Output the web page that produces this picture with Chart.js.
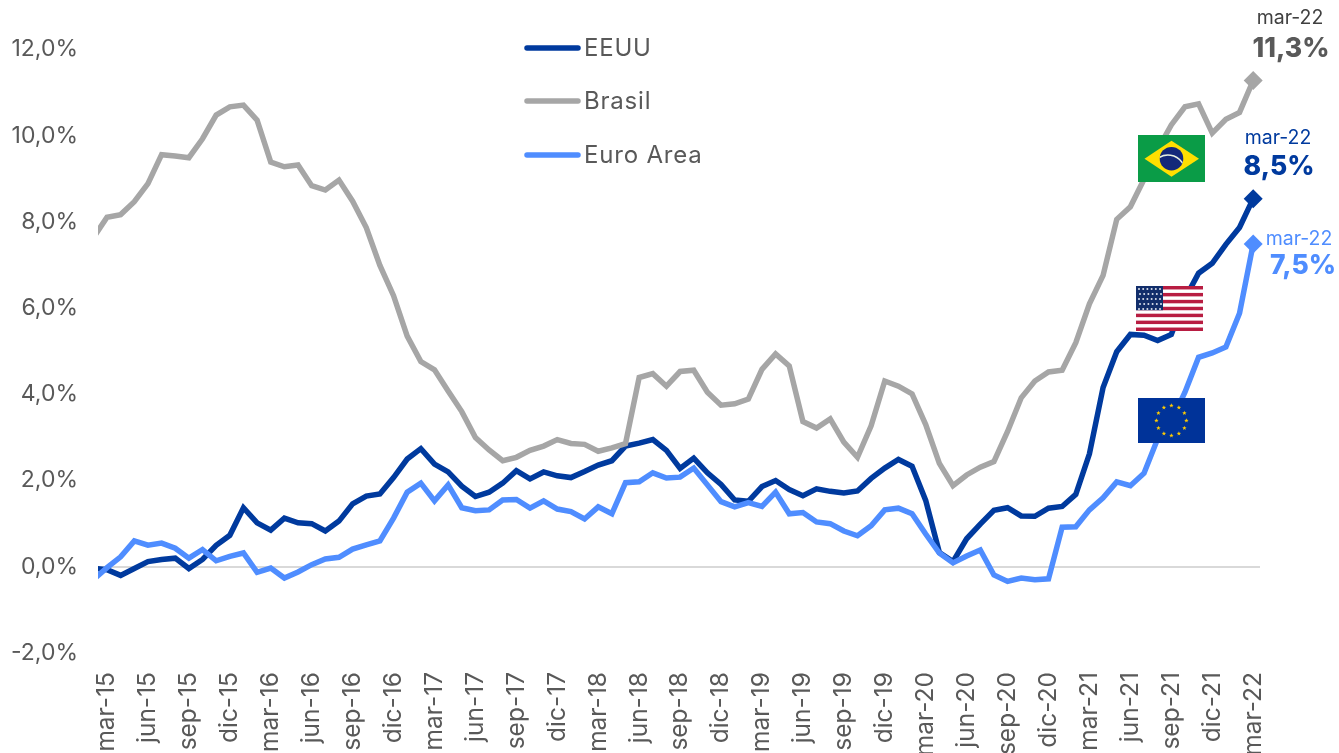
<!DOCTYPE html>
<html><head><meta charset="utf-8">
<script src="https://cdn.jsdelivr.net/npm/chart.js@4"></script>
<style>html,body{margin:0;padding:0;background:#fff;overflow:hidden}canvas{display:block}</style>
</head><body><canvas id="c" width="1339" height="753"></canvas>
<script>
const FONT = 'Inter, "Open Sans", sans-serif';
const categories = ["feb-15","mar-15","abr-15","may-15","jun-15","jul-15","ago-15","sep-15","oct-15","nov-15","dic-15","ene-16","feb-16","mar-16","abr-16","may-16","jun-16","jul-16","ago-16","sep-16","oct-16","nov-16","dic-16","ene-17","feb-17","mar-17","abr-17","may-17","jun-17","jul-17","ago-17","sep-17","oct-17","nov-17","dic-17","ene-18","feb-18","mar-18","abr-18","may-18","jun-18","jul-18","ago-18","sep-18","oct-18","nov-18","dic-18","ene-19","feb-19","mar-19","abr-19","may-19","jun-19","jul-19","ago-19","sep-19","oct-19","nov-19","dic-19","ene-20","feb-20","mar-20","abr-20","may-20","jun-20","jul-20","ago-20","sep-20","oct-20","nov-20","dic-20","ene-21","feb-21","mar-21","abr-21","may-21","jun-21","jul-21","ago-21","sep-21","oct-21","nov-21","dic-21","ene-22","feb-22","mar-22"];
const eeuu = [-0.03,-0.07,-0.20,-0.04,0.12,0.17,0.20,-0.04,0.17,0.50,0.73,1.37,1.02,0.85,1.13,1.02,1.00,0.83,1.06,1.46,1.64,1.69,2.07,2.50,2.74,2.38,2.20,1.87,1.63,1.73,1.94,2.23,2.04,2.20,2.11,2.07,2.21,2.36,2.46,2.80,2.87,2.95,2.70,2.28,2.52,2.18,1.91,1.55,1.52,1.86,2.00,1.79,1.65,1.81,1.75,1.71,1.76,2.05,2.29,2.49,2.33,1.54,0.33,0.12,0.65,0.99,1.31,1.37,1.18,1.17,1.36,1.40,1.68,2.62,4.16,4.99,5.39,5.37,5.25,5.39,6.22,6.81,7.04,7.48,7.87,8.54];
const brasil = [7.63,8.11,8.17,8.47,8.89,9.56,9.53,9.49,9.93,10.48,10.67,10.71,10.36,9.39,9.28,9.32,8.84,8.74,8.97,8.48,7.87,6.99,6.29,5.35,4.76,4.57,4.08,3.60,3.00,2.71,2.46,2.54,2.70,2.80,2.95,2.86,2.84,2.68,2.76,2.86,4.39,4.48,4.19,4.53,4.56,4.05,3.75,3.78,3.89,4.58,4.94,4.66,3.37,3.22,3.43,2.89,2.54,3.27,4.31,4.19,4.01,3.30,2.40,1.88,2.13,2.31,2.44,3.14,3.92,4.31,4.52,4.56,5.20,6.10,6.76,8.06,8.35,8.99,9.68,10.25,10.67,10.74,10.06,10.38,10.54,11.28];
const euroArea = [-0.30,-0.02,0.23,0.60,0.50,0.55,0.43,0.20,0.40,0.14,0.24,0.32,-0.13,-0.03,-0.26,-0.12,0.05,0.18,0.22,0.41,0.51,0.60,1.13,1.73,1.94,1.53,1.90,1.37,1.30,1.32,1.55,1.56,1.36,1.53,1.34,1.28,1.11,1.39,1.23,1.95,1.97,2.18,2.06,2.08,2.29,1.90,1.51,1.39,1.49,1.40,1.73,1.23,1.26,1.04,1.00,0.83,0.72,0.95,1.32,1.36,1.23,0.76,0.32,0.09,0.25,0.39,-0.19,-0.34,-0.26,-0.30,-0.28,0.92,0.93,1.32,1.60,1.97,1.88,2.17,2.97,3.38,4.05,4.86,4.96,5.10,5.88,7.49];
const seriesNames = ['EEUU','Brasil','Euro Area'];
const endDate = 'mar-22';
const endValues = ['8,5%','11,3%','7,5%'];
const C_DARK='#003A9E', C_GRAY='#A6A6A6', C_LIGHT='#4F8DFF', C_TEXT='#595959';

function pts(s){return s.map((y,x)=>({x,y}));}
const last = categories.length-1;
function ds(label,data,color,order){
  return {label,data:pts(data),borderColor:color,backgroundColor:color,borderWidth:5.5,tension:0,order,
    borderJoinStyle:'miter',clip:{left:0,right:30,top:30,bottom:30},
    pointStyle:'rectRot',pointBorderWidth:0,
    pointRadius:c=>c.dataIndex===last?9.5:0,pointHoverRadius:c=>c.dataIndex===last?9.5:0};
}

function star(ctx,x,y,r){ctx.beginPath();for(let i=0;i<10;i++){const a=-Math.PI/2+i*Math.PI/5,q=i%2?r*0.42:r;ctx.lineTo(x+q*Math.cos(a),y+q*Math.sin(a));}ctx.closePath();ctx.fill();}

const overlay={id:'overlay',afterDatasetsDraw(chart){
  const ctx=chart.ctx;ctx.save();
  // legend
  const leg=[[48,C_DARK],[101,C_GRAY],[155,C_LIGHT]];
  leg.forEach(([y,col],i)=>{
    ctx.strokeStyle=col;ctx.lineWidth=5.5;ctx.lineCap='round';
    ctx.beginPath();ctx.moveTo(527,y);ctx.lineTo(578,y);ctx.stroke();
    ctx.fillStyle=C_TEXT;ctx.font='400 24px '+FONT;ctx.letterSpacing='0.8px';ctx.textAlign='left';ctx.textBaseline='middle';
    ctx.fillText(seriesNames[i],584,y+1);
    ctx.letterSpacing='0px';
  });
  // Brazil flag
  ctx.fillStyle='#0A9C47';ctx.fillRect(1138,135,67,47);
  ctx.fillStyle='#FFDF00';ctx.beginPath();ctx.moveTo(1144.5,158.7);ctx.lineTo(1171.5,140.7);ctx.lineTo(1199,158.7);ctx.lineTo(1171.5,176.7);ctx.closePath();ctx.fill();
  ctx.fillStyle='#13287A';ctx.beginPath();ctx.arc(1171.5,158.7,11.8,0,7);ctx.fill();
  ctx.save();ctx.beginPath();ctx.arc(1171.5,158.7,11.8,0,7);ctx.clip();
  ctx.strokeStyle='#E8F0E0';ctx.lineWidth=1.4;ctx.beginPath();ctx.arc(1168,172,17,-2.2,-0.55);ctx.stroke();ctx.restore();
  // US flag
  const ux=1136,uy=286,uw=67,uh=45,sh=uh/13;
  ctx.fillStyle='#FFFFFF';ctx.fillRect(ux,uy,uw,uh);
  ctx.fillStyle='#B81D42';
  for(let i=0;i<13;i+=2)ctx.fillRect(ux,uy+i*sh,uw,sh);
  ctx.fillStyle='#122E6B';ctx.fillRect(ux,uy,27,sh*7);
  ctx.fillStyle='#DDE3EE';
  for(let r=0;r<5;r++)for(let k=0;k<6;k++){ctx.beginPath();ctx.arc(ux+3+k*4.2+(r%2?1:0),uy+3+r*5,1,0,7);ctx.fill();}
  // EU flag
  ctx.fillStyle='#003399';ctx.fillRect(1138,398,67,45);
  ctx.fillStyle='#FFCC00';
  for(let i=0;i<12;i++){const a=i*Math.PI/6;star(ctx,1171.4+15*Math.cos(a),420.6+15*Math.sin(a),2.3);}
  // end labels
  ctx.textAlign='center';ctx.textBaseline='middle';
  const ann=[[1,1290,18,49,C_TEXT],[0,1278,138,167,C_DARK],[2,1299,239,266,C_LIGHT]];
  ann.forEach(([i,x,y1,y2,col])=>{
    ctx.fillStyle=col==C_TEXT?'#404040':col;ctx.font='400 19.5px '+FONT;ctx.fillText(endDate,x,y1);
    ctx.fillStyle=col;ctx.font='800 26.5px '+FONT;ctx.fillText(endValues[i],x+(i==2?4:1),y2);
  });
  ctx.restore();
}};

new Chart(document.getElementById('c'),{
  type:'line',
  data:{datasets:[ds(seriesNames[0],eeuu,C_DARK,3),ds(seriesNames[1],brasil,C_GRAY,2),ds(seriesNames[2],euroArea,C_LIGHT,1)]},
  options:{
    responsive:false,animation:false,
    layout:{autoPadding:false,padding:{left:0,top:49.5,right:79,bottom:0}},
    plugins:{legend:{display:false},tooltip:{enabled:false}},
    scales:{
      x:{type:'linear',min:0.34,max:85.5,
        afterFit(s){s.height=100;},
        afterBuildTicks(s){const t=[];for(let i=1;i<=last;i+=3)t.push({value:i});s.ticks=t;},
        grid:{display:false},border:{display:false},
        ticks:{autoSkip:false,minRotation:90,maxRotation:90,padding:11,color:C_TEXT,
          font:{family:FONT,size:24.5,weight:'400'},callback:v=>categories[v]}},
      y:{min:-2,max:12,
        afterFit(s){s.width=98;},
        border:{display:false},
        grid:{drawTicks:false,lineWidth:c=>c.tick.value===0?2:0,color:'#D9D9D9'},
        ticks:{stepSize:2,padding:20,color:C_TEXT,font:{family:FONT,size:23,weight:'400'},
          callback:v=>v.toFixed(1).replace('.',',')+'%'}}
    }
  },
  plugins:[overlay]
});
</script></body></html>
